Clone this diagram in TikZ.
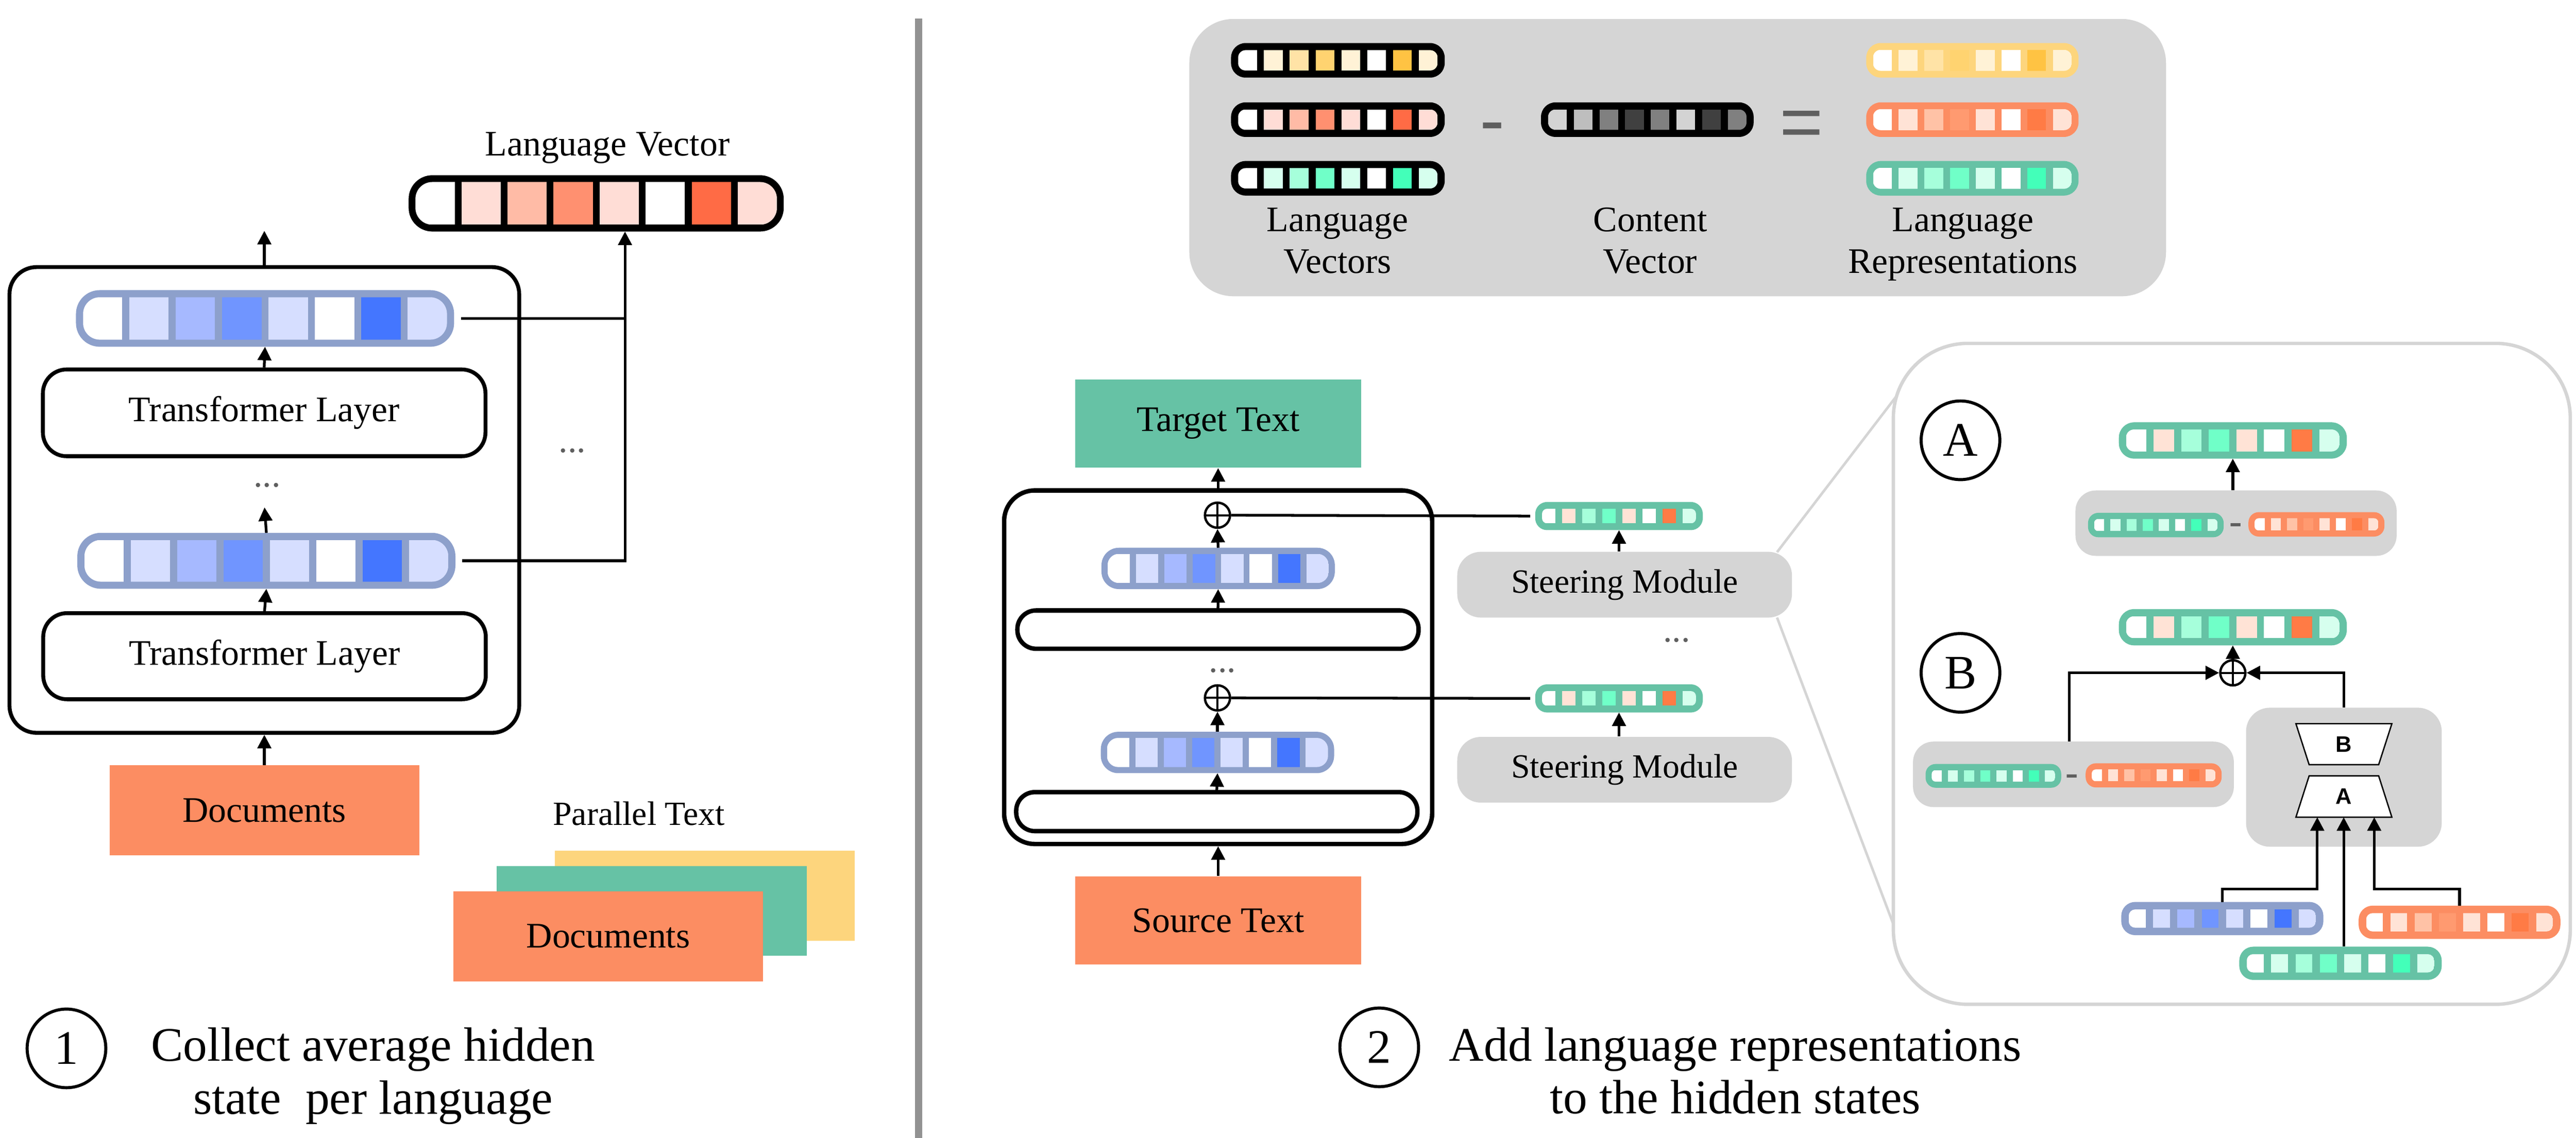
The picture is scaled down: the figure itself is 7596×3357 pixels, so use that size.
\documentclass[tikz,border=0pt]{standalone}
\usepackage{fontspec}
\setmainfont{Liberation Serif}
\newfontfamily\sansfam{Liberation Sans}
\usetikzlibrary{arrows.meta}
\definecolor{teal2}{HTML}{66C2A5}
\definecolor{orange2}{HTML}{FC8D62}
\definecolor{blue2}{HTML}{8DA0CB}
\definecolor{yellow2}{HTML}{FDD57D}
\definecolor{graybox}{HTML}{D5D5D5}
\definecolor{divgray}{HTML}{929292}
\definecolor{dotgray}{HTML}{5F5F5F}
\definecolor{opgray}{HTML}{5F5F5F}
\definecolor{bA}{HTML}{D6DEFF}\definecolor{bB}{HTML}{A6B9FF}\definecolor{bC}{HTML}{7095FF}\definecolor{bD}{HTML}{4476FF}
\definecolor{oA}{HTML}{FFDDD6}\definecolor{oB}{HTML}{FFBBA6}\definecolor{oC}{HTML}{FF9070}\definecolor{oD}{HTML}{FF6B45}
\definecolor{rA}{HTML}{FFE3D6}\definecolor{rB}{HTML}{FFC2A6}\definecolor{rC}{HTML}{FF9A70}\definecolor{rD}{HTML}{FF7B45}
\definecolor{yA}{HTML}{FFF2D6}\definecolor{yB}{HTML}{FFE3A6}\definecolor{yC}{HTML}{FFD370}\definecolor{yD}{HTML}{FFC343}
\definecolor{tA}{HTML}{D6FFEE}\definecolor{tB}{HTML}{A6FFDB}\definecolor{tC}{HTML}{70FFC8}\definecolor{tD}{HTML}{43FFB9}
\definecolor{gA}{HTML}{D3D3D3}\definecolor{gB}{HTML}{BEBEBE}\definecolor{gC}{HTML}{808080}\definecolor{gD}{HTML}{404040}
% #1 name, #2 x, #3 y, #4 w, #5 h, #6 border thickness, #7 border colour, #8 cell colours
\newcommand\vecbar[8]{%
  \pgfmathsetmacro\vbSeg{(#4-9*#6)/8}%
  \pgfmathsetmacro\vbR{0.42*#5*0.2}%
  \pgfmathsetmacro\vbRi{max(0.42*#5-#6,4)*0.2}%
  \fill[#7, rounded corners=\vbR pt] (#2,#3) rectangle ++(#4,#5);
  \begin{scope}
    \clip[rounded corners=\vbRi pt] ({#2+#6},{#3+#6}) rectangle ({#2+#4-#6},{#3+#5-#6});
    \foreach \vbC [count=\vbI from 0] in {#8}{
      \fill[\vbC] ({#2+#6+\vbI*(\vbSeg+#6)},{#3+#6}) rectangle ++(\vbSeg,{#5-2*#6});
    }
  \end{scope}
  \node[inner sep=0pt,outer sep=0pt,minimum width=#4*0.2pt,minimum height=#5*0.2pt] (#1) at ({#2+#4/2},{#3+#5/2}) {};
}
\begin{document}
\begin{tikzpicture}[x=0.2pt,y=-0.2pt,
  conn/.style={line width=1.6pt},
  arr/.style={line width=1.6pt,-{Triangle[length=8pt,width=8pt]}},
  txt/.style={inner sep=0pt,font=\fontsize{21.2}{25}\selectfont},
  smalltxt/.style={inner sep=0pt,font=\fontsize{20}{24}\selectfont},
  bigtxt/.style={inner sep=0pt,font=\fontsize{28.4}{34}\selectfont},
  layerbox/.style={draw,line width=2.3pt,rounded corners=14pt,fill=white,inner sep=0pt,font=\fontsize{21.2}{25}\selectfont},
  emptylayer/.style={draw,line width=2.6pt,rounded corners=11pt,fill=white,inner sep=0pt},
  modelbox/.style={draw,line width=2.3pt,rounded corners=16pt,inner sep=0pt},
  colbox/.style={inner sep=0pt,font=\fontsize{21.2}{25}\selectfont},
  graypill/.style={fill=graybox,rounded corners=14pt,inner sep=0pt,font=\fontsize{20}{24}\selectfont},
  grayfield/.style={fill=graybox,rounded corners=12pt,inner sep=0pt},
  plusnode/.style={circle,draw,line width=1.4pt,fill=white,minimum size=14.8pt,inner sep=0pt,
    path picture={\draw[line width=1.2pt] (path picture bounding box.north) -- (path picture bounding box.south)
      (path picture bounding box.west) -- (path picture bounding box.east);}},
  numcirc/.style={circle,draw,line width=1.8pt,minimum size=46.4pt,inner sep=0pt,font=\fontsize{28.4}{34}\selectfont},
  dotstxt/.style={inner sep=0pt,text=dotgray,font=\fontsize{21.2}{25}\selectfont},
  optxt/.style={inner sep=0pt,text=opgray,font=\sansfam\fontsize{44}{44}\selectfont},
  smallop/.style={inner sep=0pt,text=opgray,font=\sansfam\fontsize{24}{24}\selectfont},
  zoomline/.style={draw=graybox,line width=1.5pt},
  trapline/.style={draw=black,fill=white,line width=0.8pt},
  traptxt/.style={inner sep=0pt,font=\sansfam\bfseries\fontsize{13.2}{15}\selectfont},
]
\useasboundingbox (0,0) rectangle (7596,3357);
\fill[white] (0,0) rectangle (7596,3357);
% divider
\fill[divgray] (2698,55) rectangle (2719,3357);

% ================= LEFT PANEL =================
\node[modelbox,minimum width=300.6pt,minimum height=274.8pt] (bigL) at (779.5,1475) {};
\vecbar{barL1}{224}{856}{1115}{167}{21}{blue2}{white,bA,bB,bC,bA,white,bD,bA}
\node[layerbox,minimum width=261pt,minimum height=51.2pt] (TL1) at (779,1218) {Transformer Layer};
\node[dotstxt,anchor=base] (dotsL) at (788,1437) {...};
\vecbar{barL2}{228}{1572}{1115}{165}{21}{blue2}{white,bA,bB,bC,bA,white,bD,bA}
\node[layerbox,minimum width=261pt,minimum height=50.8pt] (TL2) at (780,1936) {Transformer Layer};
\node[colbox,fill=orange2,minimum width=182.6pt,minimum height=53pt] (docL) at (779.5,2390.5) {Documents};
\node[txt,anchor=base] (lvlabel) at (1791,459) {Language Vector};
\vecbar{LV}{1205}{517}{1106}{166}{20}{black}{white,oA,oB,oC,oA,white,oD,oA}
\node[dotstxt,anchor=base] (dotsR) at (1688,1335) {...};
\coordinate (outL) at (779.5,681);
\coordinate (lvIn) at (1843,683);
\coordinate (dotsIn) at (780,1497);
\draw[arr] (bigL.north) -- (outL);
\draw[arr] (TL1.north) -- (barL1.south);
\draw[arr] (barL2.north) -- (dotsIn);
\draw[arr] (TL2.north) -- (barL2.south);
\draw[arr] (docL.north) -- (bigL.south);
\draw[arr] ([xshift=4pt]barL2.east) -| (lvIn);
\draw[conn] ([xshift=4pt]barL1.east) -- (barL1.east -| lvIn);

\node[smalltxt,anchor=base] (ptlabel) at (1884,2435) {Parallel Text};
\node[fill=yellow2,inner sep=0pt,minimum width=176.8pt,minimum height=53.2pt] (docY) at (2078,2642) {};
\node[fill=teal2,inner sep=0pt,minimum width=183pt,minimum height=52.8pt] (docT) at (1921.5,2687) {};
\node[colbox,fill=orange2,minimum width=182.6pt,minimum height=53pt] (docO) at (1793.5,2762.5) {Documents};

\node[numcirc] (n1) at (196,3093) {1};
\node[bigtxt,anchor=base] (cap1a) at (1100,3130) {Collect average hidden};
\node[bigtxt,anchor=base] (cap1b) at (1100,3287) {state\ \ per language};

% ================= TOP BOX =================
\node[fill=graybox,rounded corners=26pt,inner sep=0pt,minimum width=576pt,minimum height=163.6pt] (topbox) at (4947,465) {};
\vecbar{lvY}{3630}{127}{630}{102}{21}{black}{white,yA,yB,yC,yA,white,yD,yA}
\vecbar{lvO}{3630}{302}{630}{102}{21}{black}{white,oA,oB,oC,oA,white,oD,oA}
\vecbar{lvT}{3630}{475}{630}{102}{21}{black}{white,tA,tB,tC,tA,white,tD,tA}
\vecbar{cv}{4544}{302}{627}{102}{21}{black}{gA,gB,gC,gD,gC,gA,gD,gC}
\vecbar{rpY}{5503}{127}{626}{102}{20}{yellow2}{white,yA,yB,yC,yA,white,yD,yA}
\vecbar{rpO}{5503}{302}{626}{102}{20}{orange2}{white,rA,rB,rC,rA,white,rD,rA}
\vecbar{rpT}{5503}{475}{626}{102}{20}{teal2}{white,tA,tB,tC,tA,white,tD,tA}
\node[optxt,anchor=base] (minusTop) at (4401,429) {-};
\node[optxt,anchor=base] (eqTop) at (5313,436) {=};
\node[txt,anchor=base] (l1a) at (3944,683) {Language};
\node[txt,anchor=base] (l1b) at (3944,806) {Vectors};
\node[txt,anchor=base] (l2a) at (4866,683) {Content};
\node[txt,anchor=base] (l2b) at (4866,806) {Vector};
\node[txt,anchor=base] (l3a) at (5788,683) {Language};
\node[txt,anchor=base] (l3b) at (5788,806) {Representations};

% ================= MIDDLE PANEL =================
\node[colbox,fill=teal2,minimum width=168.4pt,minimum height=52.2pt] (tgt) at (3592,1249.5) {Target Text};
\node[modelbox,line width=2.6pt,rounded corners=18pt,minimum width=252.4pt,minimum height=208.6pt] (bigM) at (3592,1968.5) {};
\node[plusnode] (plusM1) at (3590,1520) {};
\vecbar{barM1}{3248}{1616}{688}{122}{18}{blue2}{white,bA,bB,bC,bA,white,bD,bA}
\node[emptylayer,minimum width=236.6pt,minimum height=22.6pt] (layerM1) at (3591.5,1857.5) {};
\node[dotstxt,anchor=base] (dotsM) at (3605,1983) {...};
\node[plusnode] (plusM2) at (3590,2059) {};
\vecbar{barM2}{3246}{2159}{688}{122}{18}{blue2}{white,bA,bB,bC,bA,white,bD,bA}
\node[emptylayer,minimum width=236.6pt,minimum height=23pt] (layerM2) at (3588,2394.5) {};
\node[colbox,fill=orange2,minimum width=168.4pt,minimum height=52.2pt] (src) at (3592,2715.5) {Source Text};
\vecbar{sbar1}{4527}{1481}{494}{83}{20}{teal2}{white,rA,tB,tC,rA,white,rD,tA}
\vecbar{sbar2}{4527}{2019}{494}{83}{20}{teal2}{white,rA,tB,tC,rA,white,rD,tA}
\node[dotstxt,anchor=base] (dotsS) at (4944,1894) {...};

% zoom lines (behind steering module and panel)
\coordinate (zA1) at (5240,1629);
\coordinate (zA2) at (5631,1118);
\coordinate (zB1) at (5240,1822);
\coordinate (zB2) at (5590,2745);
\draw[zoomline] (zA1) -- (zA2);
\draw[zoomline] (zB1) -- (zB2);

\node[graypill,minimum width=197.4pt,minimum height=38.8pt] (SM1) at (4790.5,1725) {Steering Module};
\node[graypill,minimum width=197.4pt,minimum height=38.8pt] (SM2) at (4790.5,2271) {Steering Module};

\draw[arr] (src.north) -- (bigM.south);
\draw[arr] (bigM.north) -- (tgt.south);
\draw[arr] (layerM1.north) -- (barM1.south);
\draw[arr] (barM1.north) -- (plusM1.south);
\draw[arr] (layerM2.north) -- (barM2.south);
\draw[arr] (barM2.north) -- (plusM2.south);
\draw[conn] (plusM1.east) -- ([xshift=-3pt]sbar1.west);
\draw[conn] (plusM2.east) -- ([xshift=-3pt]sbar2.west);
\draw[arr] (sbar1.south |- SM1.north) -- (sbar1.south);
\draw[arr] (sbar2.south |- SM2.north) -- (sbar2.south);

\node[numcirc] (n2) at (4067,3090) {2};
\node[bigtxt,anchor=base] (cap2a) at (5117,3130) {Add language representations};
\node[bigtxt,anchor=base] (cap2b) at (5117,3285) {to the hidden states};

% ================= RIGHT PANEL =================
\node[draw=graybox,line width=2pt,fill=white,rounded corners=44pt,inner sep=0pt,minimum width=399.2pt,minimum height=390pt] (panel) at (6581,1988) {};

% A
\node[numcirc] (circA) at (5781,1299) {A};
\vecbar{resA}{6248}{1246}{672}{107}{21}{teal2}{white,rA,tB,tC,rA,white,rD,tA}
\node[grayfield,minimum width=189.4pt,minimum height=38.6pt] (grayA) at (6593.5,1543.5) {};
\vecbar{smTA}{6157}{1513}{400}{72}{18}{teal2}{white,tA,tB,tC,tA,white,tD,tA}
\node[smallop,anchor=base] (minusA) at (6592,1581) {-};
\vecbar{smOA}{6630}{1511}{401}{72}{18}{orange2}{white,rA,rB,rC,rA,white,rD,rA}
\draw[arr] (resA.south |- grayA.north) -- (resA.south);

% B
\node[numcirc] (circB) at (5781,1985) {B};
\vecbar{resB}{6248}{1797}{672}{107}{21}{teal2}{white,rA,tB,tC,rA,white,rD,tA}
\node[plusnode] (plusB) at (6584,1985) {};
\node[grayfield,minimum width=189.2pt,minimum height=38.6pt] (grayB1) at (6114,2284.5) {};
\vecbar{smTB}{5678}{2254}{400}{70}{18}{teal2}{white,tA,tB,tC,tA,white,tD,tA}
\node[smallop,anchor=base] (minusB) at (6109,2322) {-};
\vecbar{smOB}{6150}{2252}{401}{71}{18}{orange2}{white,rA,rB,rC,rA,white,rD,rA}
\node[grayfield,rounded corners=14pt,minimum width=115.4pt,minimum height=82pt] (grayB2) at (6911.5,2293) {};
\draw[trapline] (6770,2135) -- (7053,2135) -- (7014,2256) -- (6809,2256) -- cycle;
\node[traptxt] (labB) at (6911,2196) {B};
\draw[trapline] (6809,2289) -- (7014,2289) -- (7053,2411) -- (6770,2411) -- cycle;
\node[traptxt] (labA) at (6911,2350) {A};
\coordinate (inA1) at (6833,2411);
\coordinate (inA2) at (6911,2411);
\coordinate (inA3) at (7001,2411);
\vecbar{barBB}{6255}{2661}{596}{98}{22}{blue2}{white,bA,bB,bC,bA,white,bD,bA}
\vecbar{barBO}{6955}{2672}{595}{98}{22}{orange2}{white,rA,rB,rC,rA,white,rD,rA}
\vecbar{barBT}{6603}{2793}{597}{98}{22}{teal2}{white,tA,tB,tC,tA,white,tD,tA}
\draw[arr] (barBB.north) -- ++(0,-38) -| (inA1);
\draw[arr] (inA2 |- barBT.north) -- (inA2);
\draw[arr] (barBO.north) -- ++(0,-49) -| (inA3);
\draw[arr] ([xshift=-2.4pt]grayB1.north) |- (plusB.west);
\draw[arr] (grayB2.north) |- (plusB.east);
\draw[arr] (plusB.north) -- (resB.south);
\end{tikzpicture}
\end{document}
